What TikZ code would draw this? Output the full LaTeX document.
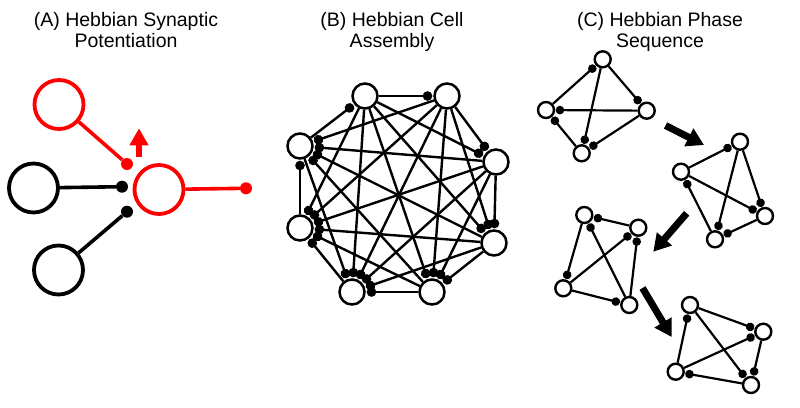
\documentclass[tikz,border=0pt]{standalone}
\usepackage{fontspec}
\setmainfont{Liberation Sans}
\usetikzlibrary{arrows.meta}
\tikzset{
	title/.style = {
		align=center,
		inner sep=0pt,
		font=\fontsize{19.5}{21}\selectfont,
		anchor=base
	},
	cell_a/.style = {
		circle,
		draw=black,
		line width=3.8pt,
		inner sep=0pt,
		minimum size=49pt
	},
	cell_a_red/.style = {
		cell_a,
		draw=red
	},
	knob_a/.style = {
		circle,
		fill=black,
		inner sep=0pt,
		minimum size=12pt
	},
	knob_a_red/.style = {
		knob_a,
		fill=red
	},
	axon_a/.style = {
		line width=3.6pt
	},
	boost/.style = {
		line width=6.5pt,
		-{Triangle[length=17pt,width=18pt]}
	},
	cell_b/.style = {
		circle,
		draw=black,
		fill=white,
		line width=2.5pt,
		inner sep=0pt,
		minimum size=25pt
	},
	syn_b/.style = {
		line width=2.4pt,
		-{Circle[length=9.5pt]},
		shorten >=1pt
	},
	cell_c/.style = {
		cell_b,
		line width=2.4pt,
		minimum size=16pt
	},
	syn_c/.style = {
		line width=2.2pt,
		-{Circle[length=8.5pt]},
		shorten >=0.5pt
	},
	jump/.style = {
		line width=7pt,
		-{Triangle[length=17pt,width=19pt]}
	},
}

\begin{document}
\begin{tikzpicture}[x=1pt, y=-1pt]
\useasboundingbox (0,0) rectangle (800,407);

% titles
\node [title] (title_a) at (126,47.7) {(A) Hebbian Synaptic\\Potentiation};
\node [title] (title_b) at (392,47.7) {(B) Hebbian Cell\\Assembly};
\node [title] (title_c) at (660,47.7) {(C) Hebbian Phase\\Sequence};

% (A) synaptic potentiation
\node [cell_a_red] (pre_r) at (59,104.5) {};
\node [cell_a] (pre_1) at (33.5,188) {};
\node [cell_a] (pre_2) at (58.5,270) {};
\node [cell_a_red] (post) at (159,189.5) {};
\node [knob_a_red] (knob_r) at (127,164) {};
\node [knob_a] (knob_1) at (122,186.7) {};
\node [knob_a] (knob_2) at (127,211.7) {};
\node [knob_a_red] (knob_out) at (246,188.3) {};
\draw [axon_a, red] (pre_r) -- (knob_r);
\draw [axon_a] (pre_1) -- (knob_1);
\draw [axon_a] (pre_2) -- (knob_2);
\draw [axon_a, red] (post) -- (knob_out);
\coordinate (up_tail) at (139,157.3);
\coordinate (up_tip) at (139,128.3);
\draw [boost, red] (up_tail) -- (up_tip);

% (B) cell assembly
\node [cell_b] (b1) at (365,96) {};
\node [cell_b] (b2) at (447,96) {};
\node [cell_b] (b3) at (496,162) {};
\node [cell_b] (b4) at (494,243) {};
\node [cell_b] (b5) at (432,292) {};
\node [cell_b] (b6) at (352,292) {};
\node [cell_b] (b7) at (300,228) {};
\node [cell_b] (b8) at (300,146) {};
\draw [syn_b] (b1) edge (b2) edge (b3) edge (b4) edge (b5) edge (b6) edge (b7);
\draw [syn_b] (b2) edge (b3) edge (b4) edge (b5) edge (b6) edge (b7) edge (b8);
\draw [syn_b] (b3) edge (b4) edge (b5) edge (b6) edge (b7) edge (b8);
\draw [syn_b] (b4) edge (b5) edge (b6) edge (b7) edge (b8);
\draw [syn_b] (b5) edge (b6) edge (b7) edge (b8);
\draw [syn_b] (b6) edge (b7);
\draw [syn_b] (b7) edge (b8);
\draw [syn_b] (b8) edge (b1) edge (b6);

% (C) phase sequence, first assembly
\node [cell_c] (p1_t) at (602.7,59.3) {};
\node [cell_c] (p1_l) at (546,110) {};
\node [cell_c] (p1_r) at (646.7,110.7) {};
\node [cell_c] (p1_b) at (581.7,153.3) {};
\draw [syn_c] (p1_l) edge (p1_t);
\draw [syn_c] (p1_t) edge (p1_b) edge (p1_r);
\draw [syn_c] (p1_r) edge (p1_l) edge (p1_b);
\draw [syn_c] (p1_b) edge (p1_l);

% second assembly
\node [cell_c] (p2_t) at (740,141.7) {};
\node [cell_c] (p2_l) at (681,171.7) {};
\node [cell_c] (p2_r) at (765,216) {};
\node [cell_c] (p2_b) at (715,239.3) {};
\draw [syn_c] (p2_l) edge (p2_t) edge (p2_r);
\draw [syn_c] (p2_t) edge (p2_b) edge (p2_r);
\draw [syn_c] (p2_b) edge (p2_l);
\draw [syn_c] (p2_r) edge (p2_b);

% third assembly
\node [cell_c] (p3_tl) at (584.3,215) {};
\node [cell_c] (p3_tr) at (638.3,227.7) {};
\node [cell_c] (p3_bl) at (563.3,288.3) {};
\node [cell_c] (p3_br) at (629.3,305) {};
\draw [syn_c] (p3_tr) edge (p3_tl);
\draw [syn_c] (p3_br) edge (p3_tl) edge (p3_tr);
\draw [syn_c] (p3_tl) edge (p3_bl);
\draw [syn_c] (p3_bl) edge (p3_tr) edge (p3_br);

% fourth assembly
\node [cell_c] (p4_t) at (690,305) {};
\node [cell_c] (p4_r) at (763.3,331.7) {};
\node [cell_c] (p4_l) at (675.7,371.7) {};
\node [cell_c] (p4_b) at (751,385) {};
\draw [syn_c] (p4_l) edge (p4_t) edge (p4_r);
\draw [syn_c] (p4_t) edge (p4_b) edge (p4_r);
\draw [syn_c] (p4_b) edge (p4_l);
\draw [syn_c] (p4_r) edge (p4_b);

% transitions
\coordinate (s1_tail) at (665.5,125.5);
\coordinate (s1_tip) at (704,145);
\coordinate (s2_tail) at (686.7,213.3);
\coordinate (s2_tip) at (653.3,251.7);
\coordinate (s3_tail) at (642.5,288);
\coordinate (s3_tip) at (671.7,337);
\draw [jump] (s1_tail) -- (s1_tip);
\draw [jump] (s2_tail) -- (s2_tip);
\draw [jump] (s3_tail) -- (s3_tip);
\end{tikzpicture}
\end{document}
